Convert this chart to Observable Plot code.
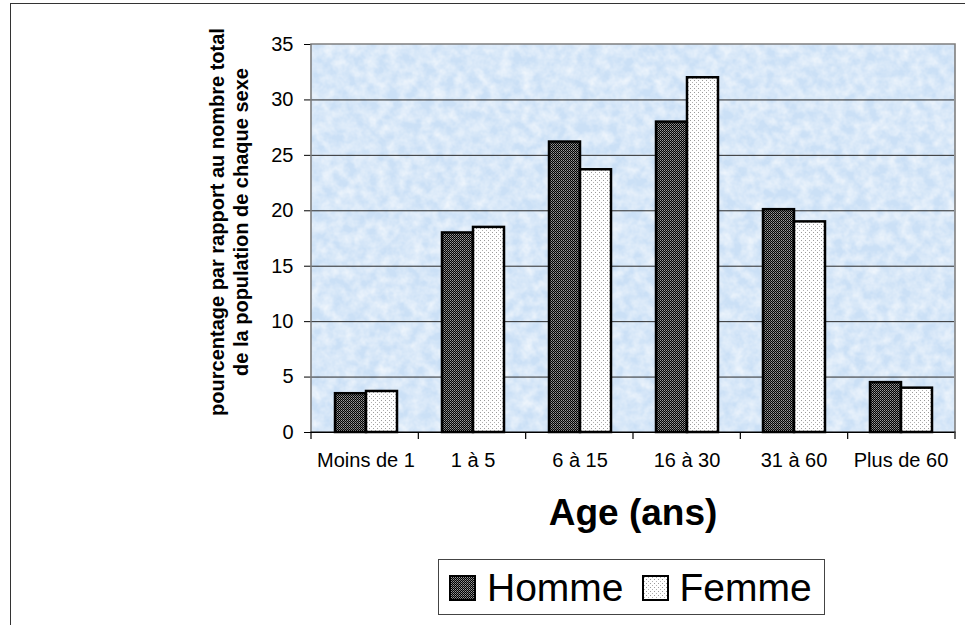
<!DOCTYPE html>
<html>
<head>
<meta charset="utf-8">
<script src="https://cdn.jsdelivr.net/npm/d3@7"></script>
<script src="https://cdn.jsdelivr.net/npm/@observablehq/plot@0.6"></script>
<style>
  html, body { margin: 0; padding: 0; background: #fff; }
  #wrap { position: relative; width: 965px; height: 625px; overflow: hidden; font-family: "Liberation Sans", Arial, sans-serif; color: #000; }
  #outer { position: absolute; left: 10px; top: 3px; width: 2000px; height: 2000px; border: 1.5px solid #333; }
  #chart { position: absolute; left: 0; top: 0; }
  #ytitle { position: absolute; left: 4px; top: 198px; width: 450px; height: 48px; line-height: 24px; font-size: 20px; font-weight: bold; text-align: center; transform: rotate(-90deg); transform-origin: 225px 24px; white-space: nowrap; }
  #xtitle { position: absolute; left: 433px; top: 494px; width: 400px; text-align: center; font-size: 37px; line-height: 37px; font-weight: bold; }
  #legend { position: absolute; left: 438px; top: 559px; width: 387px; height: 56px; box-sizing: border-box; border: 1.2px solid #444; display: flex; align-items: center; padding-left: 10px; background: #fff; }
  #legend .item { display: flex; align-items: center; font-size: 39px; line-height: 39px; }
  #legend .item + .item { margin-left: 18px; }
  #legend svg { margin-right: 11px; margin-top: 3px; }
</style>
</head>
<body>
<div id="wrap">
  <div id="outer"></div>
  <div id="chart"></div>
  <div id="ytitle"></div>
  <div id="xtitle"></div>
  <div id="legend"></div>
</div>
<script>
// ---- data ----
const categories = ["Moins de 1", "1 à 5", "6 à 15", "16 à 30", "31 à 60", "Plus de 60"];
const series = ["Homme", "Femme"];
const homme = [3.5, 18, 26.2, 28, 20.1, 4.5];
const femme = [3.7, 18.5, 23.7, 32, 19, 4];
const yTicks = [0, 5, 10, 15, 20, 25, 30, 35];
const yTitleLines = ["pourcentage par rapport au nombre total", "de la population de chaque sexe"];
const xTitle = "Age (ans)";

const values = {Homme: homme, Femme: femme};
const data = categories.flatMap((c, i) => series.map(s => ({cat: c, sex: s, value: values[s][i]})));
const patternIds = ["pat-homme", "pat-femme"];

const chart = Plot.plot({
  width: 965,
  height: 625,
  marginLeft: 311,
  marginRight: 10,
  marginTop: 44,
  marginBottom: 193,
  style: {fontFamily: "'Liberation Sans', Arial, sans-serif", fontSize: "20px", background: "transparent", color: "#000"},
  facet: {data, x: "cat"},
  fx: {domain: categories, padding: 0, label: null, axis: "bottom", tickSize: 0, tickPadding: 20},
  x: {domain: series, paddingInner: 0, paddingOuter: 0.7, axis: null},
  y: {domain: [0, 35], ticks: yTicks, tickSize: 8, tickPadding: 11, label: null, line: false},
  color: {domain: series, range: patternIds.map(id => `url(#${id})`)},
  marks: [
    Plot.ruleY(yTicks.filter(v => v > 0 && v < 35), {stroke: "#2a2a2a", strokeWidth: 1}),
    Plot.barY(data, {x: "sex", y: "value", fill: "sex", stroke: "#000", strokeWidth: 2.5}),
    Plot.ruleY([0], {stroke: "#000", strokeWidth: 1.2})
  ]
});

document.getElementById("chart").appendChild(chart);

// ---- decorations through the plot's own scales ----
const svg = d3.select(chart);
const fxS = chart.scale("fx");
const yS = chart.scale("y");
const band = d3.scaleBand(fxS.domain, fxS.range).paddingInner(0).paddingOuter(0);
const yLin = d3.scaleLinear(yS.domain, yS.range);
const x0 = fxS.range[0], x1 = fxS.range[1];
const yTop = yLin(d3.max(yTicks)), yBot = yLin(0);

const defs = svg.insert("defs", ":first-child");
// Homme: dark checker
const ph = defs.append("pattern").attr("id", patternIds[0]).attr("patternUnits", "userSpaceOnUse").attr("width", 2).attr("height", 2);
ph.append("rect").attr("width", 2).attr("height", 2).attr("fill", "#000");
ph.append("rect").attr("x", 0).attr("y", 0).attr("width", 1).attr("height", 1).attr("fill", "#9a9a9a");
ph.append("rect").attr("x", 1).attr("y", 1).attr("width", 1).attr("height", 1).attr("fill", "#6a6a6a");
// Femme: white with sparse dots
const pf = defs.append("pattern").attr("id", patternIds[1]).attr("patternUnits", "userSpaceOnUse").attr("width", 4).attr("height", 4);
pf.append("rect").attr("width", 4).attr("height", 4).attr("fill", "#fff");
pf.append("rect").attr("x", 0).attr("y", 0).attr("width", 1).attr("height", 1).attr("fill", "#9a9a9a");
pf.append("rect").attr("x", 2).attr("y", 2).attr("width", 1).attr("height", 1).attr("fill", "#b0b0b0");
// subtle texture
const f = defs.append("filter").attr("id", "tex").attr("x", 0).attr("y", 0).attr("width", "100%").attr("height", "100%");
f.append("feTurbulence").attr("type", "fractalNoise").attr("baseFrequency", 0.09).attr("numOctaves", 3).attr("seed", 7).attr("result", "n");
f.append("feColorMatrix").attr("in", "n").attr("type", "matrix")
  .attr("values", "0 0 0 0 1  0 0 0 0 1  0 0 0 0 1  1.1 0 0 0 -0.3");

// background behind all marks
const bg = svg.insert("g", "defs + *");
bg.append("rect").attr("x", x0).attr("y", yTop).attr("width", x1 - x0).attr("height", yBot - yTop).attr("fill", "#cbe0f6");
bg.append("rect").attr("x", x0).attr("y", yTop).attr("width", x1 - x0).attr("height", yBot - yTop).attr("fill", "#fff").attr("filter", "url(#tex)");

// plot-area border (gray) and category boundary ticks
const deco = svg.append("g");
deco.append("path").attr("d", `M${x0},${yBot}V${yTop}H${x1}V${yBot}`).attr("fill", "none").attr("stroke", "#7f7f7f").attr("stroke-width", 1.6);
deco.append("line").attr("x1", x0 - 0.5).attr("x2", x1 + 0.5).attr("y1", yBot).attr("y2", yBot).attr("stroke", "#000").attr("stroke-width", 1.2);
const bounds = categories.map(c => band(c)).concat([x1]);
deco.selectAll("line.b").data(bounds).join("line").attr("class", "b")
  .attr("x1", d => d).attr("x2", d => d).attr("y1", yBot).attr("y2", yBot + 7)
  .attr("stroke", "#000").attr("stroke-width", 1.2);

// titles
document.getElementById("ytitle").innerHTML = yTitleLines.join("<br>");
document.getElementById("xtitle").textContent = xTitle;

// legend
const legend = d3.select("#legend");
series.forEach((s, i) => {
  const item = legend.append("div").attr("class", "item");
  const sw = item.append("svg").attr("width", 27).attr("height", 27);
  sw.append("rect").attr("x", 1).attr("y", 1).attr("width", 25).attr("height", 24)
    .attr("fill", `url(#${patternIds[i]})`).attr("stroke", "#000").attr("stroke-width", 2);
  item.append("span").text(s);
});
</script>
</body>
</html>
